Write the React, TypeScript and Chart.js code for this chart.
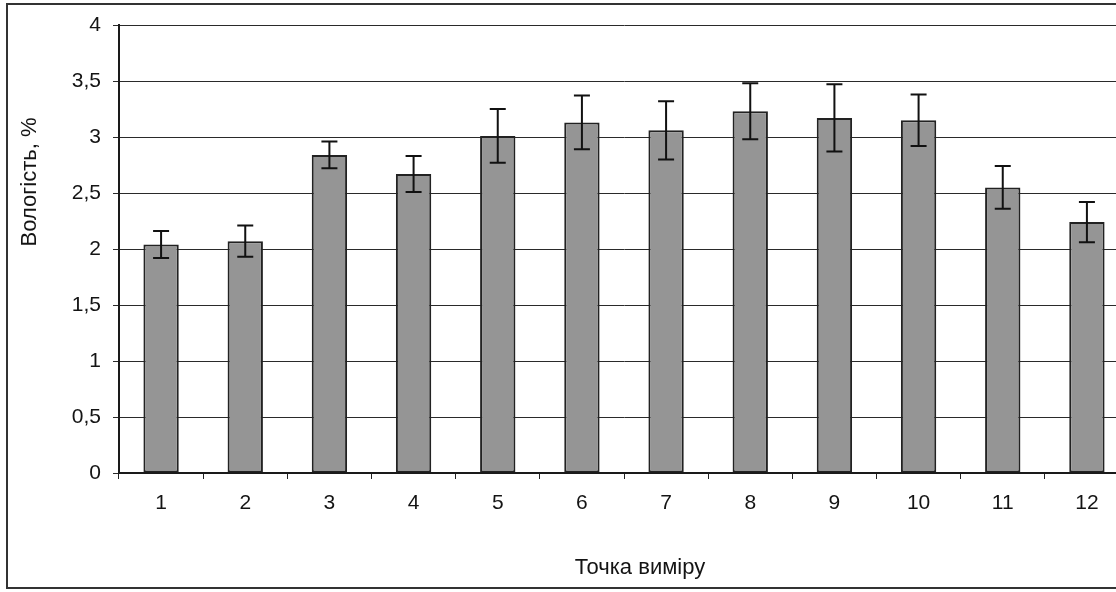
import React, { useEffect, useRef } from "react";
import { Chart, registerables } from "chart.js";

Chart.register(...registerables);

const categories = ["1", "2", "3", "4", "5", "6", "7", "8", "9", "10", "11", "12"];
const moisture = [2.04, 2.07, 2.84, 2.67, 3.01, 3.13, 3.06, 3.23, 3.17, 3.15, 2.55, 2.24];
const errors = [0.12, 0.14, 0.12, 0.16, 0.24, 0.24, 0.26, 0.25, 0.3, 0.23, 0.19, 0.18];
const yTitle = "Вологість, %";
const xTitle = "Точка виміру";

const FONT = "'Liberation Sans', Arial, sans-serif";
const INK = "#141414";

const errorBarPlugin = {
  id: "errorBars",
  afterDatasetsDraw(chart: any) {
    const ctx = chart.ctx;
    const yScale = chart.scales.y;
    const meta = chart.getDatasetMeta(0);
    ctx.save();
    ctx.strokeStyle = "#111";
    ctx.lineWidth = 2;
    meta.data.forEach((el: any, i: number) => {
      const v = moisture[i];
      const e = errors[i];
      const yt = yScale.getPixelForValue(v + e);
      const yb = yScale.getPixelForValue(v - e);
      const x = el.x;
      const cap = 8;
      ctx.beginPath();
      ctx.moveTo(x, yt);
      ctx.lineTo(x, yb);
      ctx.moveTo(x - cap, yt);
      ctx.lineTo(x + cap, yt);
      ctx.moveTo(x - cap, yb);
      ctx.lineTo(x + cap, yb);
      ctx.stroke();
    });
    ctx.restore();
  },
};

const titlesPlugin = {
  id: "axisTitlesCustom",
  afterDraw(chart: any) {
    const ctx = chart.ctx;
    const area = chart.chartArea;
    ctx.save();
    ctx.fillStyle = INK;
    ctx.font = `22px ${FONT}`;
    ctx.textAlign = "center";
    ctx.textBaseline = "middle";
    // x title
    ctx.fillText(xTitle, area.left + 521, area.bottom + 95);
    // y title
    ctx.translate(30, area.top + 157);
    ctx.rotate(-Math.PI / 2);
    ctx.fillText(yTitle, 0, 0);
    ctx.restore();
  },
};

export default function App() {
  const ref = useRef<HTMLCanvasElement | null>(null);

  useEffect(() => {
    if (!ref.current) return;
    const chart = new Chart(ref.current, {
      type: "bar",
      data: {
        labels: categories,
        datasets: [
          {
            data: moisture,
            backgroundColor: "#959595",
            borderColor: "#222",
            borderWidth: 2,
            borderSkipped: false,
            categoryPercentage: 1,
            barPercentage: 0.42,
          },
        ],
      },
      options: {
        responsive: false,
        animation: false,
        devicePixelRatio: 1,
        layout: { padding: { left: 0, right: 21, top: 25, bottom: 0 } },
        plugins: {
          legend: { display: false },
          tooltip: { enabled: false },
        },
        scales: {
          x: {
            grid: {
              display: true,
              drawOnChartArea: false,
              drawTicks: true,
              tickLength: 6,
              color: "#222",
              lineWidth: 1,
              offset: true,
            },
            border: { display: true, color: "#1a1a1a", width: 2 },
            ticks: {
              color: INK,
              font: { family: FONT, size: 21 },
              padding: 12,
              maxRotation: 0,
            },
            afterFit(scale: any) {
              scale.height = 119;
            },
          },
          y: {
            min: 0,
            max: 4,
            grid: {
              color: "#2a2a2a",
              lineWidth: 1,
              tickLength: 6,
              drawTicks: true,
            },
            border: { display: true, color: "#1a1a1a", width: 2 },
            ticks: {
              stepSize: 0.5,
              color: INK,
              font: { family: FONT, size: 21 },
              padding: 12,
              callback: (v: any) => String(v).replace(".", ","),
            },
            afterFit(scale: any) {
              scale.width = 119;
            },
          },
        },
      },
      plugins: [errorBarPlugin, titlesPlugin],
    });
    return () => chart.destroy();
  }, []);

  return (
    <div
      style={{
        position: "absolute",
        left: 0,
        top: 0,
        width: 1116,
        height: 592,
        overflow: "hidden",
        background: "#fff",
      }}
    >
      <div
        style={{
          position: "absolute",
          left: 6,
          top: 3,
          width: 1200,
          height: 586,
          border: "2px solid #333",
          boxSizing: "border-box",
        }}
      />
      <canvas
        ref={ref}
        width={1150}
        height={592}
        style={{ position: "absolute", left: 0, top: 0, width: 1150, height: 592, display: "block" }}
      />
    </div>
  );
}
